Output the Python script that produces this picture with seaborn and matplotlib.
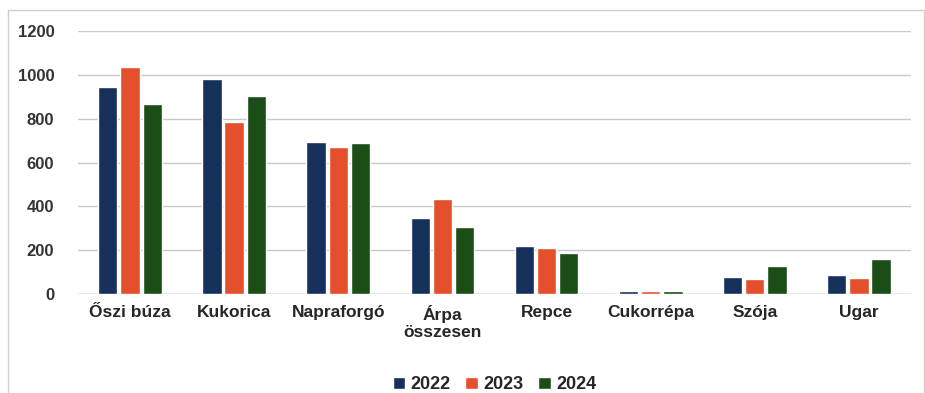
import matplotlib

matplotlib.use("Agg")
import matplotlib.pyplot as plt
import pandas as pd
import seaborn as sns
from matplotlib.patches import Rectangle

categories = ["Őszi búza", "Kukorica", "Napraforgó", "Árpa\nösszesen", "Repce",
              "Cukorrépa", "Szója", "Ugar"]
years = ["2022", "2023", "2024"]
v2022 = [945, 980, 695, 348, 220, 12, 76, 85]
v2023 = [1035, 785, 672, 435, 208, 14, 68, 73]
v2024 = [868, 905, 688, 305, 186, 14, 126, 158]
colors = ["#15305a", "#e4502c", "#1b4d16"]

df = pd.DataFrame({
    "Kultúra": categories * 3,
    "Év": [y for y in years for _ in categories],
    "Érték": v2022 + v2023 + v2024,
})

sns.set_theme(style="white")
plt.rcParams["font.family"] = ["Liberation Sans Narrow", "Liberation Sans", "DejaVu Sans"]

fig = plt.figure(figsize=(9.25, 3.93), dpi=100)
ax = fig.add_axes([0.0843, 0.252, 0.9005, 0.669])

sns.barplot(data=df, x="Kultúra", y="Érték", hue="Év", palette=colors,
            saturation=1, width=0.64, gap=0.13, ax=ax, legend=True)

ax.set_ylim(0, 1200)
ax.set_yticks(range(0, 1201, 200))
ax.set_xlim(-0.5, 7.5)
ax.yaxis.grid(True, color="#c9c9c9", linewidth=1.0)
ax.set_axisbelow(True)
for s in ax.spines.values():
    s.set_visible(False)
ax.axhline(0, color="#bdbdbd", linewidth=1.0, zorder=0)
ax.set_xlabel("")
ax.set_ylabel("")
ax.tick_params(axis="both", length=0, pad=8)
for lab in ax.get_xticklabels():
    lab.set_fontsize(12.5)
    lab.set_fontweight("bold")
    lab.set_color("#262626")
for lab in ax.get_yticklabels():
    lab.set_fontsize(12)
    lab.set_fontweight("bold")
    lab.set_family(["Liberation Sans", "DejaVu Sans"])
    lab.set_color("#333333")
ax.tick_params(axis="y", pad=17)

ax.legend(loc="center", bbox_to_anchor=(0.5, -0.345), ncol=3, frameon=False,
          handlelength=0.7, handleheight=0.7, handletextpad=0.3, columnspacing=0.8,
          prop={"size": 13, "weight": "bold"})

fig.patches.append(Rectangle((0.009, -0.02), 0.99, 0.995, transform=fig.transFigure,
                             fill=False, edgecolor="#cfcfcf", linewidth=1.0))

fig.savefig("out.png", dpi=100)
